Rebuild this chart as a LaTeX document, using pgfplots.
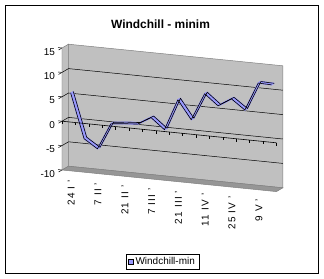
\documentclass[border=0pt]{standalone}
\usepackage{fontspec}
\setmainfont{Liberation Sans}
\usepackage{pgfplots}
\pgfplotsset{compat=1.18}
\usepackage{pgfplotstable}
\definecolor{lav}{RGB}{153,153,255}
\definecolor{wall}{RGB}{192,192,192}
\definecolor{wallline}{RGB}{128,128,128}
\definecolor{floorc}{RGB}{150,150,150}

\pgfplotstableread{
x z
0.5 5.7
1.5 -3.4
2.5 -5.2
3.5 0.2
4.5 0.5
5.5 0.7
6.5 2.3
7.5 0.1
8.5 6.5
9.5 2.7
10.5 8.3
11.5 6.1
12.5 7.8
13.5 5.8
14.5 11.6
15.5 11.5
}\wind

\begin{document}
\begin{tikzpicture}
\useasboundingbox (0,0) rectangle (324bp,279bp);
\fill[white] (0,0) rectangle (324bp,279bp);
\draw[black, line width=0.8bp] (5bp,6bp) rectangle (318bp,274bp);
\node[font=\bfseries\fontsize{12}{14}\selectfont] at (160.5bp,255bp) {Windchill - minim};
\begin{axis}[
  at={(62bp,157.8bp)}, anchor=origin,
  x={(13.4bp,-1.35bp)}, y={(6.5bp,3.8bp)}, z={(0bp,4.88bp)},
  xmin=0, xmax=16, ymin=0, ymax=1, zmin=-10, zmax=15,
  clip=false,
  axis lines=left,
  axis line style={-},
  x axis line style={draw=none},
  y axis line style={draw=none},
  z axis line style={black, line width=0.6bp},
  xtick={0.5,2.5,4.5,6.5,8.5,10.5,12.5,14.5},
  xticklabels={24 I ',7 II ',21 II ',7 III ',21 III ',11 IV ',25 IV ',9 V '},
  xtick style={draw=none},
  ytick=\empty,
  ztick={-10,-5,0,5,10,15},
  tick align=outside,
  major tick length=4bp,
  ztick style={black, line width=0.5bp},
  /pgf/number format/assume math mode=true,
  tick label style={font=\fontsize{10}{12}\selectfont},
  x tick label style={xshift=6bp, yshift=-4bp, rotate=90, anchor=east,
    font=\fontsize{10}{12}\selectfont\addfontfeature{LetterSpace=12}},
  legend style={at={(0.455,-0.475)}, anchor=center, draw=black, line width=0.5bp,
    font=\fontsize{10}{12}\selectfont, inner xsep=2bp, inner ysep=1.5bp},
]
% walls and floor
\fill[wall, draw=wallline, line width=0.5bp] (axis cs:0,1,-10) -- (axis cs:16,1,-10) -- (axis cs:16,1,15) -- (axis cs:0,1,15) -- cycle;
\fill[wall, draw=wallline, line width=0.5bp] (axis cs:0,0,-10) -- (axis cs:0,1,-10) -- (axis cs:0,1,15) -- (axis cs:0,0,15) -- cycle;
\fill[floorc, draw=wallline, line width=0.5bp] (axis cs:0,0,-10) -- (axis cs:16,0,-10) -- (axis cs:16,1,-10) -- (axis cs:0,1,-10) -- cycle;
% grid lines
\pgfplotsinvokeforeach{-5,0,5,10}{
  \draw[black, line width=0.5bp] (axis cs:0,0,#1) -- (axis cs:0,1,#1) -- (axis cs:16,1,#1);
}
% ribbon
\pgfplotsinvokeforeach{0.3,0.35,0.4,0.45,0.5,0.55,0.6,0.65,0.7}{
  \addplot3[lav, line width=1.2bp, line join=round, forget plot] table[x=x, y expr=#1, z=z]{\wind};
}
\addplot3[black, line width=0.6bp, line join=round, forget plot] table[x=x, y expr=0.3, z=z]{\wind};
\addplot3[black, line width=0.6bp, line join=round, forget plot] table[x=x, y expr=0.7, z=z]{\wind};
% category axis at value 0
\draw[black, line width=0.6bp] (axis cs:0,0,0) -- (axis cs:16,0,0);
\pgfplotsinvokeforeach{0,...,16}{
  \draw[black, line width=0.5bp] (axis cs:#1,0,0) -- (axis cs:#1,0,-0.6);
}
\addlegendimage{legend image code/.code={\draw[fill=lav, draw=black, line width=0.4bp] (0bp,-2.5bp) rectangle (5bp,2.5bp);}}
\addlegendentry{Windchill-min}
\end{axis}
\end{tikzpicture}
\end{document}
